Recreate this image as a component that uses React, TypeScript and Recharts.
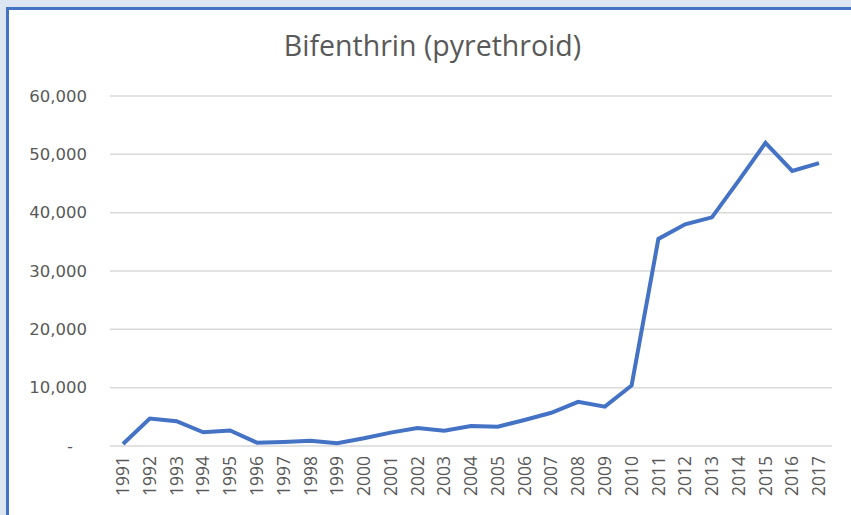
import React from 'react';
import { LineChart, Line, XAxis, YAxis, CartesianGrid } from 'recharts';

const years = ['1991', '1992', '1993', '1994', '1995', '1996', '1997', '1998', '1999', '2000', '2001', '2002', '2003', '2004', '2005', '2006', '2007', '2008', '2009', '2010', '2011', '2012', '2013', '2014', '2015', '2016', '2017'];
const usage = [340, 4700, 4250, 2350, 2650, 570, 690, 900, 480, 1320, 2290, 3090, 2630, 3430, 3310, 4460, 5700, 7580, 6740, 10380, 35500, 38000, 39200, 45500, 51950, 47150, 48500];
const yTicks = [0, 10000, 20000, 30000, 40000, 50000, 60000];
const title = 'Bifenthrin (pyrethroid)';

const data = years.map((year, i) => ({ year, usage: usage[i] }));

const FONT = '"Open Sans", sans-serif';
const YFONT = '"DejaVu Sans", sans-serif';
const TEXT = '#595959';

const fmt = (v: number) => (v === 0 ? '-' : v.toLocaleString('en-US'));

const YTick = (props: any) => {
  const { x, y, payload } = props;
  const v = payload.value;
  return (
    <text
      x={v === 0 ? x - 14 : x}
      y={y}
      dy="0.35em"
      textAnchor="end"
      fill={TEXT}
      fontSize={16.5}
      fontFamily={YFONT}
    >
      {fmt(v)}
    </text>
  );
};

const XTick = (props: any) => {
  const { x, y, payload } = props;
  return (
    <g transform={`translate(${x},${y + 10})`}>
      <text
        transform="rotate(-90)"
        textAnchor="end"
        dy="0.35em"
        fill={TEXT}
        fontSize={17.5}
        fontFamily={FONT}
      >
        {payload.value}
      </text>
    </g>
  );
};

export default function App() {
  return (
    <div style={{ position: 'fixed', left: 0, top: 0, width: 851, height: 515, background: '#dce6f2', overflow: 'hidden' }}>
      <div
        style={{
          position: 'absolute',
          left: 6,
          top: 7,
          right: 0,
          bottom: 0,
          background: '#ffffff',
          borderLeft: '3px solid #4472c4',
          borderTop: '3px solid #4472c4',
        }}
      />
      <div
        style={{
          position: 'absolute',
          left: 0,
          top: 27,
          width: 865,
          textAlign: 'center',
          fontFamily: FONT,
          fontSize: 28.5,
          color: TEXT,
          lineHeight: '36px',
          whiteSpace: 'nowrap',
        }}
      >
        {title}
      </div>
      <div style={{ position: 'absolute', left: 0, top: 0 }}>
        <LineChart width={851} height={515} data={data} margin={{ top: 96, right: 19, left: 0, bottom: 0 }}>
          <CartesianGrid horizontal vertical={false} stroke="#d9d9d9" strokeWidth={1.5} />
          <XAxis
            dataKey="year"
            interval={0}
            height={69}
            axisLine={false}
            tickLine={false}
            tickSize={0}
            tickMargin={0}
            padding={{ left: 13, right: 13 }}
            tick={<XTick />}
          />
          <YAxis
            domain={[0, 60000]}
            ticks={yTicks}
            width={110}
            axisLine={false}
            tickLine={false}
            tickSize={0}
            tickMargin={23}
            tick={<YTick />}
          />
          <Line
            type="linear"
            dataKey="usage"
            stroke="#4472c4"
            strokeWidth={4}
            dot={false}
            isAnimationActive={false}
          />
        </LineChart>
      </div>
    </div>
  );
}
